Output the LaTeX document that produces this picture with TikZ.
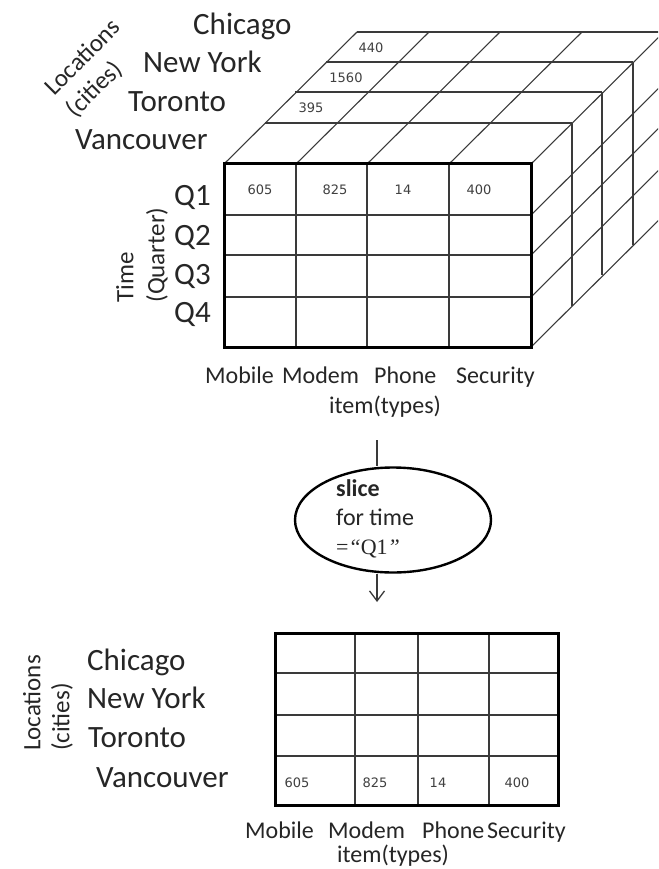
\documentclass[tikz,border=0pt]{standalone}
\usepackage{fontspec}
\setmainfont{Carlito}
\newfontfamily\numfont{DejaVu Sans}
\newfontfamily\serifq{Liberation Serif}
\usetikzlibrary{shapes.geometric,arrows.meta}
\definecolor{txt}{HTML}{262626}
\definecolor{numc}{HTML}{404040}
\definecolor{linec}{HTML}{3A3A3A}
\tikzset{
  city/.style={font=\fontsize{31}{36}\selectfont, text=txt, inner sep=0pt, anchor=base west},
  qlab/.style={font=\fontsize{31}{36}\selectfont, text=txt, inner sep=0pt, anchor=east},
  axislab/.style={font=\fontsize{25}{31}\selectfont, text=txt, inner sep=0pt, align=left},
  itemlab/.style={font=\fontsize{24}{29}\selectfont, text=txt, inner sep=0pt, anchor=base west},
  itemtitle/.style={font=\fontsize{24}{29}\selectfont, text=txt, inner sep=0pt, anchor=base},
  num/.style={font=\numfont\fontsize{13}{15}\selectfont, text=numc, inner sep=0pt},
  cube/.style={draw=linec, line width=1.1pt},
  grid/.style={draw=linec, line width=1.5pt},
  frame/.style={draw=black, line width=3pt},
  conn/.style={draw=linec, line width=1.3pt},
}
\begin{document}
\begin{tikzpicture}[x=1pt,y=-1pt]
\useasboundingbox (0,0) rectangle (658,869);
\clip (0,0) rectangle (658,869);
\fill[white] (0,0) rectangle (658,869);

% ---------- cube: top and right faces ----------
\foreach \dx/\dy in {41/41,71/72,102/102,133/132}{
  \draw[cube] (224+\dx,164-\dy) -- (531+\dx,164-\dy);
  \draw[cube] (531+\dx,164-\dy) -- (531+\dx,347-\dy);
}
\foreach \x in {224,296,367,449,531}
  \draw[cube] (\x,164) -- (\x+133,32);
\foreach \y in {215,255,297,347}
  \draw[cube] (531,\y) -- (664,\y-132);

% ---------- cube: front face ----------
\foreach \x in {296,367,449} \draw[grid] (\x,164) -- (\x,347);
\foreach \y in {215,255,297} \draw[grid] (224,\y) -- (531,\y);
\draw[frame] (224,164) rectangle (531,347);

% values
\node[num] (v605) at (260,190) {605};
\node[num] (v825) at (335,190) {825};
\node[num] (v14)  at (403,190) {14};
\node[num] (v400) at (479,190) {400};
\node[num] (v395) at (311,108) {395};
\node[num] (v1560) at (346,78) {1560};
\node[num] (v440) at (371,48) {440};

% city labels (top)
\node[city] (chi) at (193,35) {Chicago};
\node[city] (ny)  at (143,73) {New York};
\node[city] (tor) at (128,112) {Toronto};
\node[city] (van) at (75,150) {Vancouver};
\node[axislab, rotate=45] (loc1) at (94,69) {Locations\\(cities)};

% quarter labels
\node[qlab] (q1) at (211,197) {Q1};
\node[qlab] (q2) at (211,237) {Q2};
\node[qlab] (q3) at (211,276) {Q3};
\node[qlab] (q4) at (211,314) {Q4};
\node[axislab, rotate=90] (time) at (142,255) {Time\\(Quarter)};

% item labels (top)
\node[itemlab] (mob1) at (205,383) {Mobile};
\node[itemlab] (mod1) at (282,383) {Modem};
\node[itemlab] (pho1) at (374,383) {Phone};
\node[itemlab] (sec1) at (456,383) {Security};
\node[itemtitle] (it1) at (385,413) {item(types)};

% ---------- slice operation ----------
\node[ellipse, draw=black, line width=2.4pt, minimum width=196pt, minimum height=105pt, inner sep=0pt] (slice) at (393,520) {};
\node[font=\fontsize{24}{29}\selectfont, text=txt, align=left, inner sep=0pt, anchor=north west] (slicetxt) at (336,479)
  {\textbf{slice}\\for time\\{\serifq\fontsize{22}{29}\selectfont =\textit{“}Q1\textit{”}}};
\coordinate (ctop) at (377,440);
\coordinate (cend) at (377,602);
\draw[conn] (ctop) -- (ctop |- slice.north);
\draw[conn, -{Straight Barb[length=10pt, width=15pt, line width=1.3pt]}] (ctop |- slice.south) -- (cend);

% ---------- slice result grid ----------
\foreach \x in {355,418,489} \draw[grid] (\x,633) -- (\x,805);
\foreach \y in {673,715,756} \draw[grid] (275,\y) -- (558,\y);
\draw[frame] (275,633) rectangle (558,805);

\node[num] (w605) at (297,783) {605};
\node[num] (w825) at (375,783) {825};
\node[num] (w14)  at (438,783) {14};
\node[num] (w400) at (517,783) {400};

\node[city] (chi2) at (87,670) {Chicago};
\node[city] (ny2)  at (87,708) {New York};
\node[city] (tor2) at (88,747) {Toronto};
\node[city] (van2) at (96,787) {Vancouver};
\node[axislab, rotate=90, font=\fontsize{25}{29}\selectfont] (loc2) at (48,703) {Locations\\(cities)};

\node[itemlab] (mob2) at (245,838) {Mobile};
\node[itemlab] (mod2) at (328,838) {Modem};
\node[itemlab] (pho2) at (422,838) {Phone};
\node[itemlab] (sec2) at (487,838) {Security};
\node[itemtitle] (it2) at (393,862) {item(types)};
\end{tikzpicture}
\end{document}
